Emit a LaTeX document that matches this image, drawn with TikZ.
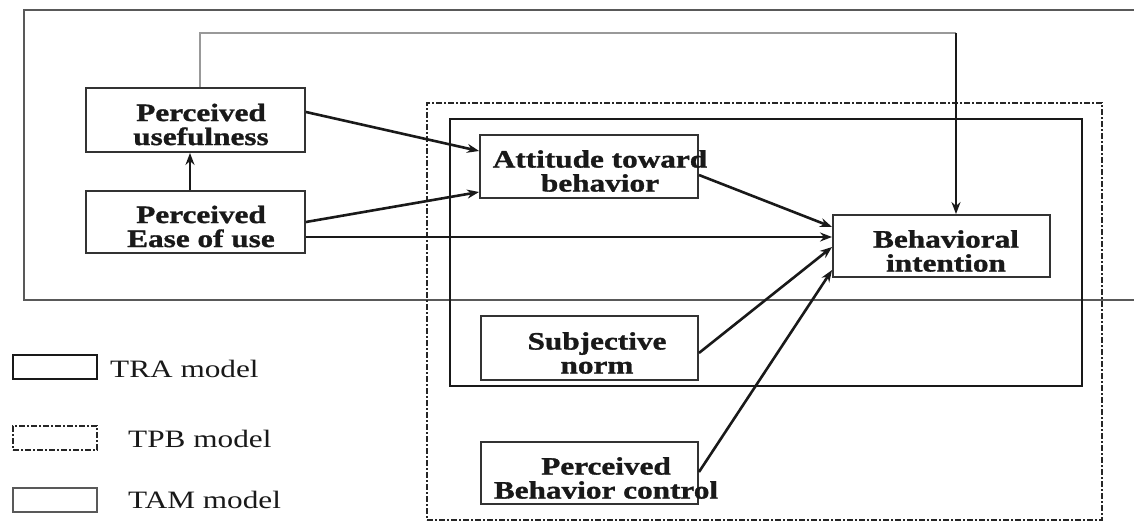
\documentclass[tikz,border=0pt]{standalone}
\usepackage{fontspec}
\setmainfont{Liberation Serif}[FakeStretch=1.25,BoldFeatures={FakeBold=1.2}]
\usetikzlibrary{arrows.meta}
\begin{document}
\begin{tikzpicture}[x=1pt,y=-1pt,
  box/.style={draw=black!80,line width=1.9pt,inner sep=0pt},
  lbl/.style={font=\fontsize{25}{24}\selectfont\bfseries,align=center,inner sep=0pt,text=black!90},
  legtext/.style={font=\fontsize{25}{24}\selectfont,inner sep=0pt,anchor=base west,text=black!90},
  conn/.style={line width=2.6pt,draw=black!90,-{Stealth[length=12pt,width=9pt]}},
  tamframe/.style={draw=black!65,line width=2.1pt},
  traframe/.style={draw=black!90,line width=2.9pt},
  tpbframe/.style={draw=black!85,line width=2.2pt,dash pattern=on 6pt off 2pt on 2pt off 2pt},
  feedback/.style={draw=black!40,line width=2.2pt}
]
\useasboundingbox (0,0) rectangle (1134,524);

% model frames
\draw[tamframe] (1134,10) -- (24,10) -- (24,300) -- (1134,300);
\node[tpbframe,inner sep=0pt,minimum width=675pt,minimum height=417pt] (tpb) at (764.5,311.5) {};
\node[traframe,inner sep=0pt,minimum width=632pt,minimum height=267pt] (tra) at (766,252.5) {};

% construct boxes
\node[box,minimum width=219pt,minimum height=64pt] (pu)   at (195.5,120) {};
\node[box,minimum width=219pt,minimum height=62pt] (peou) at (195.5,222) {};
\node[box,minimum width=218pt,minimum height=63pt] (att)  at (589,166.5) {};
\node[box,minimum width=217pt,minimum height=62pt] (bi)   at (941.5,246) {};
\node[box,minimum width=217pt,minimum height=64pt] (sn)   at (589.5,348) {};
\node[box,minimum width=217pt,minimum height=62pt] (pbc)  at (589.5,473) {};

% feedback path from perceived usefulness to behavioral intention
\coordinate (fbL) at (200,33);
\coordinate (fbR) at (956,33);
\draw[feedback] ([xshift=4.5pt]pu.north) -- (fbL) -- (fbR);
\draw[conn] (fbR) -- (fbR |- bi.north);

% causal paths
\draw[conn] ([xshift=-5.5pt]peou.north) -- ([xshift=-5.5pt]pu.south);
\draw[conn] ([yshift=8pt]pu.east) -- ([yshift=15.5pt]att.west);
\draw[conn] (peou.east) -- ([yshift=-25.5pt]att.west);
\draw[conn] ([yshift=-15pt]peou.east) -- ([yshift=9pt]bi.west);
\draw[conn] ([yshift=-8.5pt]att.east) -- ([yshift=19pt]bi.west);
\draw[conn] ([yshift=-5pt]sn.east) -- ([yshift=-1pt]bi.west);
\draw[conn] ([yshift=1pt]pbc.east) -- ([yshift=-24pt]bi.west);

% box labels
\node[lbl] (putext)   at (201,124.5) {Perceived\\usefulness};
\node[lbl] (peoutext) at (201,226.5) {Perceived\\Ease of use};
\node[lbl] (atttext)  at (600,171) {Attitude toward\\behavior};
\node[lbl] (bitext)   at (946,251) {Behavioral\\intention};
\node[lbl] (sntext)   at (597,353) {Subjective\\norm};
\node[lbl] (pbctext)  at (606,478) {Perceived\\Behavior control};

% legend
\node[traframe,inner sep=0pt,minimum width=84pt,minimum height=24pt] (legtra) at (55,367) {};
\node[tpbframe,inner sep=0pt,minimum width=84pt,minimum height=24pt] (legtpb) at (55,438) {};
\node[tamframe,inner sep=0pt,minimum width=84pt,minimum height=24pt] (legtam) at (55,500) {};
\node[legtext] (legtratext) at (110,377) {TRA model};
\node[legtext] (legtpbtext) at (128,447) {TPB model};
\node[legtext] (legtamtext) at (128,508) {TAM model};
\end{tikzpicture}
\end{document}
